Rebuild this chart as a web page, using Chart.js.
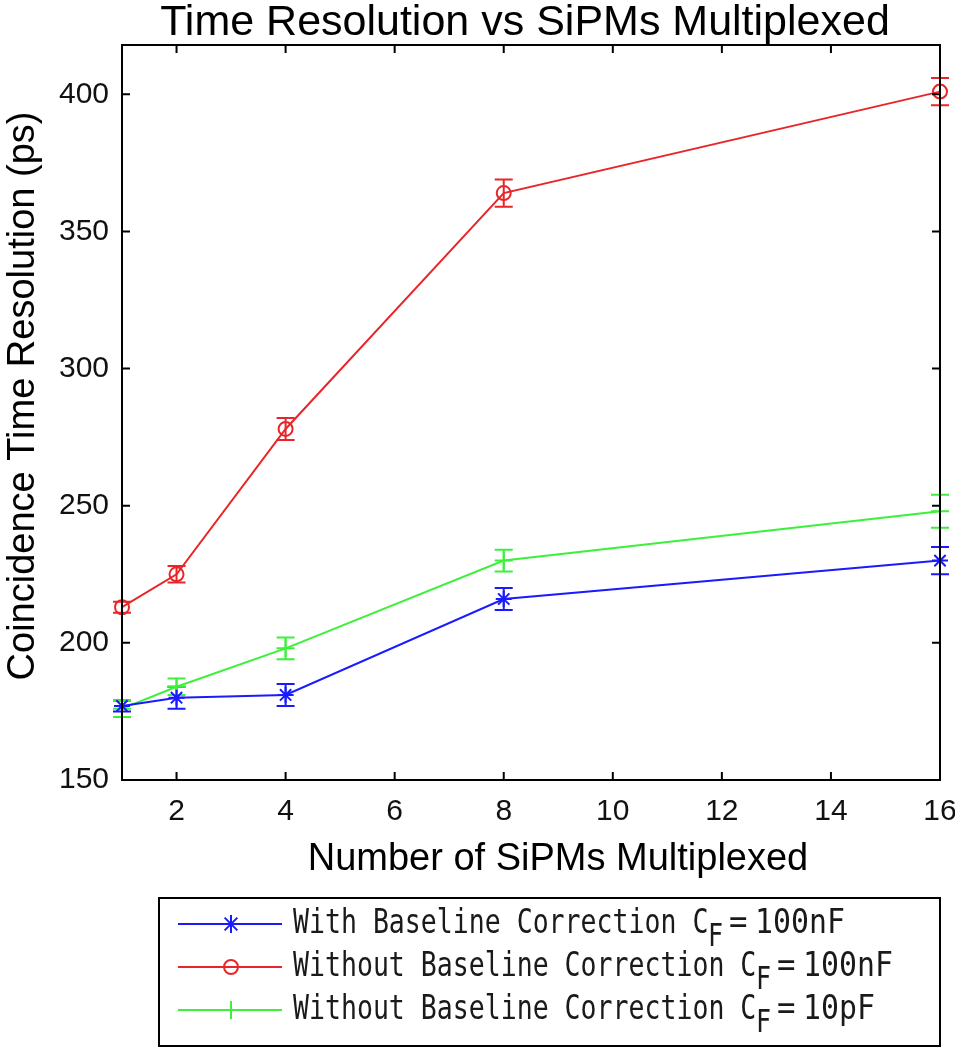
<!DOCTYPE html>
<html>
<head>
<meta charset="utf-8">
<script src="https://cdn.jsdelivr.net/npm/chart.js@4"></script>
<style>
body{margin:0;background:#fff}
</style>
</head>
<body>
<canvas id="timeChart" width="955" height="1050"></canvas>
<script>
// number of SiPMs multiplexed
var sipms=[1,2,4,8,16];
// coincidence time resolution (ps) and error bars
var withBL100n=[177,180,181,216,230];
var withBL100nErr=[2,4,4,4,5];
var noBL100n=[213,225,278,364,401];
var noBL100nErr=[2,3,4,5,5];
var noBL10p=[176,184,198,230,248];
var noBL10pErr=[3,3,4,4,6];
var xTicks=[2,4,6,8,10,12,14,16];
var yTicks=[150,200,250,300,350,400];
var chartTitle='Time Resolution vs SiPMs Multiplexed';
var xTitle='Number of SiPMs Multiplexed';
var yTitle='Coincidence Time Resolution (ps)';
var legendNames=['With Baseline Correction C','Without Baseline Correction C','Without Baseline Correction C'];
var legendValues=['100nF','100nF','10pF'];

var sansFont='"Liberation Sans", Arial, sans-serif';

function toPoints(ys,errs)
{
    return sipms.map(function(x,i){ return {x:x,y:ys[i],e:errs[i]}; });
}

function drawMarker(ctx,style,x,y,r)
{
    ctx.beginPath();
    if(style=='star')
    {
        for(var a=0;a<4;a++)
        {
            var t=a*Math.PI/4;
            ctx.moveTo(x-r*Math.cos(t),y-r*Math.sin(t));
            ctx.lineTo(x+r*Math.cos(t),y+r*Math.sin(t));
        }
    }
    else if(style=='circle')
    {
        ctx.arc(x,y,r,0,Math.PI*2);
    }
    else
    {
        ctx.moveTo(x-r,y);ctx.lineTo(x+r,y);
        ctx.moveTo(x,y-r);ctx.lineTo(x,y+r);
    }
    ctx.stroke();
}

function monoText(ctx,text,x,y,size,sx)
{
    ctx.save();
    ctx.translate(x,y);
    ctx.scale(sx,1);
    ctx.font=size+'px "DejaVu Sans Mono"';
    ctx.fillText(text,0,0);
    ctx.restore();
}

var extras={
    id:'extras',
    beforeDatasetsDraw:function(chart)
    {
        var ctx=chart.ctx;
        var xs=chart.scales.x, ys=chart.scales.y;
        // error bars
        chart.data.datasets.forEach(function(ds)
        {
            ctx.save();
            ctx.strokeStyle=ds.borderColor;
            ctx.lineWidth=2;
            ds.data.forEach(function(p)
            {
                var px=xs.getPixelForValue(p.x);
                var top=ys.getPixelForValue(p.y+p.e);
                var bot=ys.getPixelForValue(p.y-p.e);
                ctx.beginPath();
                ctx.moveTo(px,top);ctx.lineTo(px,bot);
                ctx.moveTo(px-9,top);ctx.lineTo(px+9,top);
                ctx.moveTo(px-9,bot);ctx.lineTo(px+9,bot);
                ctx.stroke();
            });
            ctx.restore();
        });
    },
    afterDraw:function(chart)
    {
        var ctx=chart.ctx;
        var a=chart.chartArea;
        var xs=chart.scales.x, ys=chart.scales.y;
        ctx.save();
        // titles
        ctx.fillStyle='#000';
        ctx.textAlign='center';
        ctx.textBaseline='alphabetic';
        ctx.font='43px '+sansFont;
        ctx.fillText(chartTitle,525,35);
        ctx.textBaseline='middle';
        ctx.font='38px '+sansFont;
        ctx.fillText(xTitle,558,860);
        ctx.save();
        ctx.translate(24,396);
        ctx.rotate(-Math.PI/2);
        ctx.fillText(yTitle,0,0);
        ctx.restore();

        // box and inward ticks
        ctx.strokeStyle='#000';
        ctx.lineWidth=2;
        ctx.strokeRect(a.left,a.top,a.right-a.left,a.bottom-a.top);
        ctx.beginPath();
        xTicks.forEach(function(v)
        {
            var px=xs.getPixelForValue(v);
            ctx.moveTo(px,a.bottom);ctx.lineTo(px,a.bottom-8);
            ctx.moveTo(px,a.top);ctx.lineTo(px,a.top+8);
        });
        yTicks.forEach(function(v)
        {
            var py=ys.getPixelForValue(v);
            ctx.moveTo(a.left,py);ctx.lineTo(a.left+8,py);
            ctx.moveTo(a.right,py);ctx.lineTo(a.right-8,py);
        });
        ctx.stroke();

        // legend
        var bx=159, by=898, bw=781, bh=148;
        ctx.fillStyle='#fff';
        ctx.fillRect(bx,by,bw,bh);
        ctx.lineWidth=2;
        ctx.strokeRect(bx,by,bw,bh);
        var rows=[924,967,1010];
        var charW=16, sx=charW/20.5;
        chart.data.datasets.forEach(function(ds,i)
        {
            var y=rows[i];
            ctx.strokeStyle=ds.borderColor;
            ctx.lineWidth=2;
            ctx.beginPath();
            ctx.moveTo(178,y);ctx.lineTo(282,y);
            ctx.stroke();
            drawMarker(ctx,ds.pointStyle,231,y,ds.pointStyle=='circle'?7:9);
            ctx.fillStyle='#1a1a1a';
            ctx.textBaseline='middle';
            ctx.textAlign='left';
            var name=legendNames[i];
            var x0=293;
            monoText(ctx,name,x0,y,34,sx);
            var xc=x0+name.length*charW;
            monoText(ctx,'F',xc-1,y+14,32,0.78);
            monoText(ctx,'=',xc+20,y,34,0.9);
            monoText(ctx,legendValues[i],xc+46,y,34,18/20.5);
        });
        ctx.restore();
    }
};

var chart=new Chart(document.getElementById('timeChart').getContext('2d'),{
    type:'line',
    data:{
        datasets:[
            {
                label:'With Baseline Correction CF = 100nF',
                data:toPoints(withBL100n,withBL100nErr),
                borderColor:'#1a1aff',
                backgroundColor:'#1a1aff',
                pointStyle:'star',
                pointRadius:8,
                pointBorderWidth:2,
                borderWidth:2,
                tension:0
            },
            {
                label:'Without Baseline Correction CF = 100nF',
                data:toPoints(noBL100n,noBL100nErr),
                borderColor:'#e8262a',
                backgroundColor:'rgba(0,0,0,0)',
                pointStyle:'circle',
                pointRadius:7,
                pointBorderWidth:2,
                borderWidth:2,
                tension:0
            },
            {
                label:'Without Baseline Correction CF = 10pF',
                data:toPoints(noBL10p,noBL10pErr),
                borderColor:'#3cf03c',
                backgroundColor:'#3cf03c',
                pointStyle:'cross',
                pointRadius:9,
                pointBorderWidth:2,
                borderWidth:2,
                tension:0
            }
        ]
    },
    options:{
        responsive:false,
        animation:false,
        clip:false,
        layout:{padding:{left:0,right:15,top:45,bottom:167}},
        plugins:{
            legend:{display:false},
            tooltip:{enabled:false},
            title:{display:false}
        },
        scales:{
            x:{
                type:'linear',
                min:1,
                max:16,
                afterBuildTicks:function(s){ s.ticks=xTicks.map(function(v){return {value:v};}); },
                afterFit:function(s){ s.height=103; s.paddingLeft=0; s.paddingRight=0; },
                grid:{drawOnChartArea:false,drawTicks:false},
                border:{display:false},
                ticks:{color:'#111',padding:14,font:{family:sansFont,size:30}}
            },
            y:{
                type:'linear',
                min:150,
                max:418,
                afterBuildTicks:function(s){ s.ticks=yTicks.map(function(v){return {value:v};}); },
                afterFit:function(s){ s.width=122; s.paddingTop=0; s.paddingBottom=0; },
                grid:{drawOnChartArea:false,drawTicks:false},
                border:{display:false},
                ticks:{color:'#111',padding:13,font:{family:sansFont,size:30}}
            }
        }
    },
    plugins:[extras]
});
</script>
</body>
</html>
